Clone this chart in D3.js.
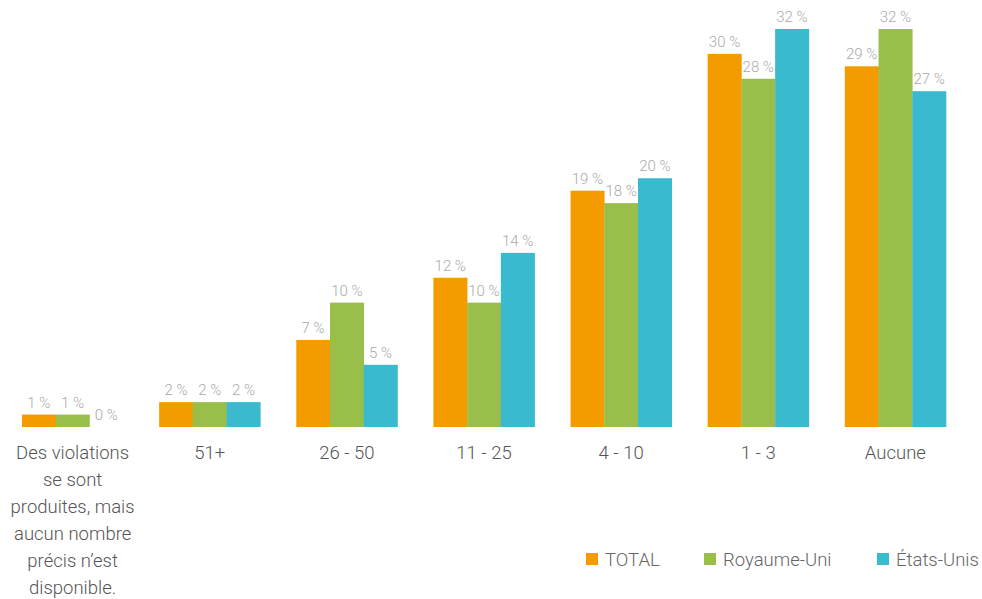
<!DOCTYPE html>
<html><head><meta charset="utf-8">
<script src="https://cdn.jsdelivr.net/npm/d3@7"></script>
<style>body{margin:0;background:#fff}svg{display:block;font-family:Roboto,sans-serif}</style>
</head><body><svg id="c" width="982" height="599"></svg>
<script>
const categories = [
  ["Des violations","se sont","produites, mais","aucun nombre","précis n’est","disponible."],
  ["51+"],["26 - 50"],["11 - 25"],["4 - 10"],["1 - 3"],["Aucune"]
];
const seriesNames = ["TOTAL","Royaume-Uni","États-Unis"];
const total = [1,2,7,12,19,30,29];
const royaumeUni = [1,2,10,10,18,28,32];
const etatsUnis = [0,2,5,14,20,32,27];
const colors = ["#F49B00","#9ABE4A","#3ABACE"];
const series = [total, royaumeUni, etatsUnis];

const svg = d3.select("#c");
const x0 = d3.scaleBand().domain(d3.range(categories.length)).range([22,946]).paddingInner(0.262).paddingOuter(0);
const x1 = d3.scaleBand().domain(d3.range(series.length)).range([0,x0.bandwidth()]);
const y = d3.scaleLinear().domain([0,32]).range([427,29]);

const g = svg.append("g");
categories.forEach((c,i)=>{
  const gg = g.append("g").attr("transform",`translate(${x0(i)},0)`);
  series.forEach((s,j)=>{
    gg.append("rect").attr("x",x1(j)).attr("width",x1.bandwidth()+0.3)
      .attr("y",y(s[i])).attr("height",y(0)-y(s[i])).attr("fill",colors[j]);
    gg.append("text").attr("x",x1(j)+x1.bandwidth()/2).attr("y",y(s[i])-7)
      .attr("text-anchor","middle").attr("font-size",15).attr("font-weight",300)
      .attr("fill","#aaa").text(s[i]+" %");
  });
  const t = gg.append("text").attr("x",x0.bandwidth()/2).attr("text-anchor","middle")
    .attr("font-size",18.5).attr("font-weight",300).attr("fill","#555");
  c.forEach((line,k)=>t.append("tspan").attr("x",x0.bandwidth()/2).attr("y",459+k*27).text(line));
});

const legendX = [586,704,877];
seriesNames.forEach((n,j)=>{
  svg.append("rect").attr("x",legendX[j]).attr("y",553).attr("width",12).attr("height",12).attr("fill",colors[j]);
  svg.append("text").attr("x",legendX[j]+19).attr("y",566).attr("font-size",18.5).attr("font-weight",300)
    .attr("fill","#666").text(n);
});
</script></body></html>
